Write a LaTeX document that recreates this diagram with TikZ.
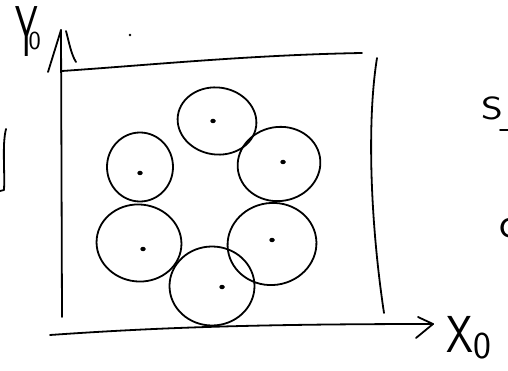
\documentclass[tikz,border=0pt]{standalone}
\usepackage{fontspec}
\usetikzlibrary{shapes.geometric}
\begin{document}
\begin{tikzpicture}[x=1pt,y=-1pt,
  ink/.style={line width=1.8pt, line cap=round, line join=round},
  cell/.style={ellipse, draw, line width=1.8pt, inner sep=0pt},
  nucleus/.style={ellipse, fill, inner sep=0pt, minimum width=5.5pt, minimum height=4.5pt},
  hand/.style={inner sep=0pt, outer sep=0pt}]
\useasboundingbox (0,0) rectangle (508,371);
% axes and box
\coordinate (o) at (62,317);
\coordinate (ytip) at (61,30);
\coordinate (yl) at (48,72);
\coordinate (yr) at (76,62);
\coordinate (boxtl) at (62,71);
\coordinate (boxtr) at (362,53);
\coordinate (rtop) at (377,58);
\coordinate (rbot) at (384,313);
\coordinate (xstart) at (50,335);
\coordinate (xtip) at (433,324);
\coordinate (xu) at (418,317);
\coordinate (xd) at (416,338);
\draw[ink] (o) -- (ytip);
\draw[ink] (yl) -- (ytip);
\draw[ink] (66,31) .. controls (69,42) and (71,54) .. (yr);
\draw[ink] (boxtl) .. controls (150,65) and (250,55) .. (boxtr);
\draw[ink] (rtop) .. controls (367,120) and (370,220) .. (rbot);
\draw[ink] (xstart) .. controls (150,328) and (250,324) .. (xtip);
\draw[ink] (xu) -- (xtip) -- (xd);
% stray marks
\fill (130,35) circle (1.4pt);
\draw[ink] (6,129) .. controls (2,145) and (5,170) .. (4,190) -- (0,191);
\coordinate (dashl) at (500,130);
\coordinate (dashr) at (509,130);
\draw[ink] (dashl) -- (dashr);
% cells
\node[cell, minimum width=79pt, minimum height=67pt, rotate=-8] (c1) at (217,121) {};
\node[cell, minimum width=83pt, minimum height=74pt, rotate=10] (c2) at (279,164) {};
\node[cell, minimum width=66pt, minimum height=69pt] (c3) at (140,167) {};
\node[cell, minimum width=85pt, minimum height=77pt, rotate=-6] (c4) at (139,243) {};
\node[cell, minimum width=89pt, minimum height=82pt, rotate=8] (c5) at (272,244) {};
\node[cell, minimum width=85pt, minimum height=79pt] (c6) at (212,286) {};
\node[nucleus] (n1) at (213,121) {};
\node[nucleus] (n2) at (283,162) {};
\node[nucleus] (n3) at (140,173) {};
\node[nucleus] (n4) at (143,249) {};
\node[nucleus] (n5) at (272,240) {};
\node[nucleus] (n6) at (222,287) {};
% labels
\node[hand, anchor=base west] (ylab) at (15,57) {\sffamily\fontsize{72}{72}\selectfont\scalebox{0.5}[1]{Y}\kern-9pt\raisebox{7pt}{\fontsize{26}{26}\selectfont 0}};
\node[hand, anchor=base west] (xlab) at (446,352) {\sffamily\fontsize{52}{52}\selectfont\scalebox{0.83}[1]{X}\kern1pt\raisebox{-6pt}{\fontsize{38}{38}\selectfont 0}};
\node[hand, anchor=base west] (slab) at (481,120) {\sffamily\fontsize{32}{32}\selectfont\scalebox{1.3}[1]{S}};
\node[hand, anchor=base west] (clab) at (499,237) {\sffamily\fontsize{43}{43}\selectfont c};
\end{tikzpicture}
\end{document}
